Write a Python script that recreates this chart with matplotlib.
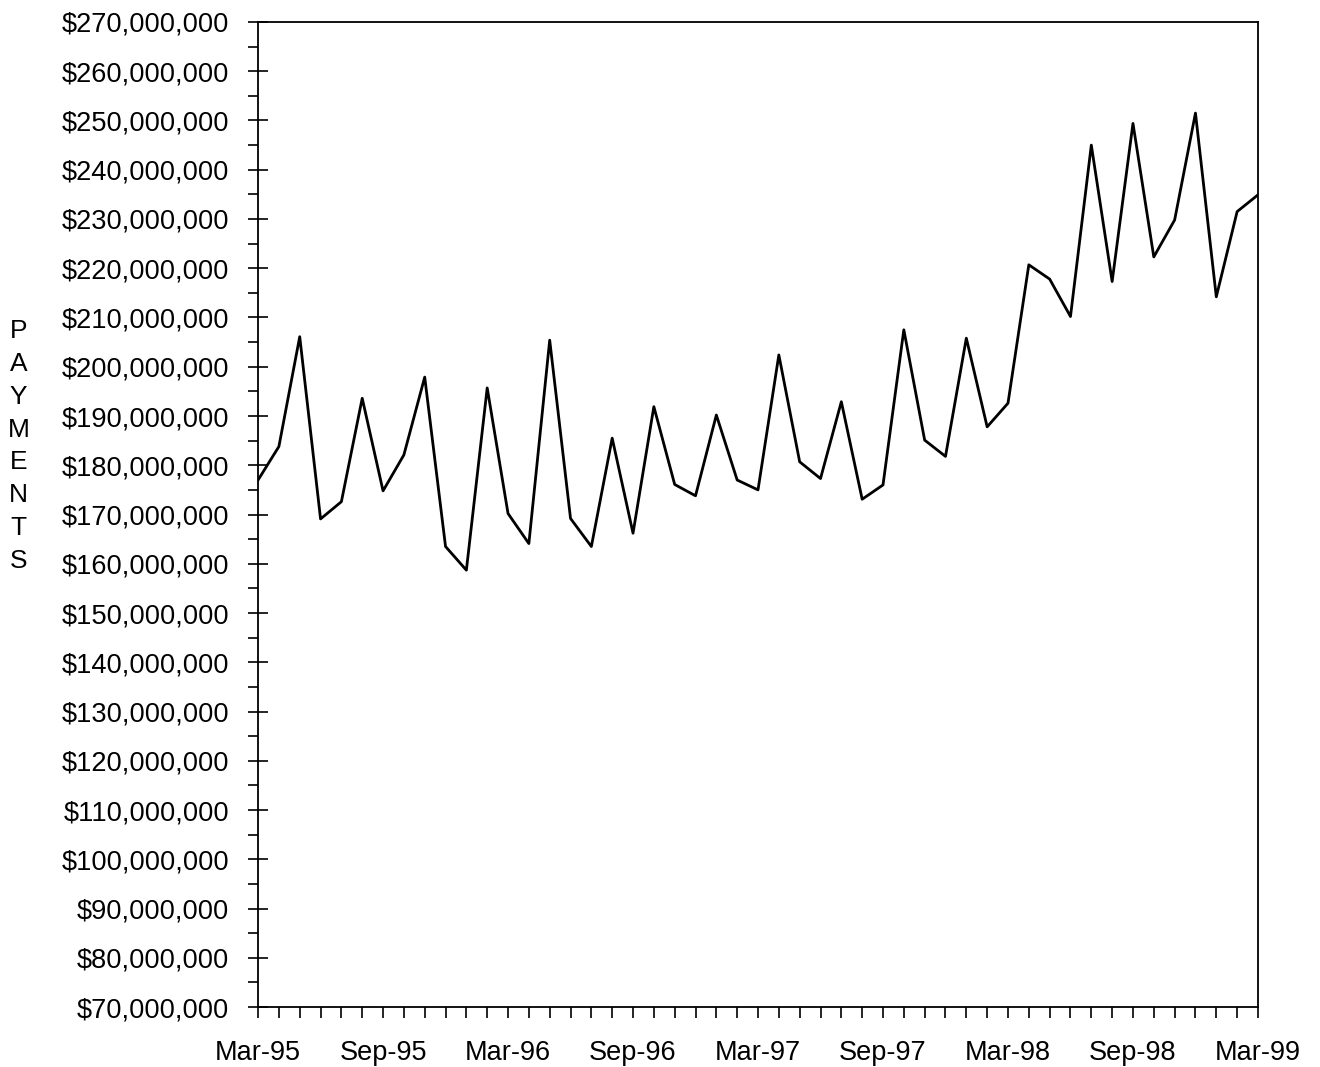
import matplotlib
matplotlib.use("Agg")
import matplotlib.pyplot as plt
from matplotlib.ticker import FuncFormatter, MultipleLocator

# monthly payments, Mar-95 .. Mar-99 (millions of dollars)
payments = [
    177.0, 183.8, 206.1, 169.1, 172.6, 193.6, 174.8, 182.1, 197.9, 163.5,
    158.7, 195.7, 170.2, 164.1, 205.4, 169.2, 163.5, 185.5, 166.2, 191.9,
    176.1, 173.8, 190.2, 177.0, 175.0, 202.4, 180.7, 177.3, 192.9, 173.1,
    176.0, 207.5, 185.1, 181.8, 205.8, 187.8, 192.6, 220.7, 217.8, 210.2,
    245.0, 217.3, 249.4, 222.3, 229.8, 251.5, 214.2, 231.5, 234.9,
]
tick_labels = ["Mar-95", "Sep-95", "Mar-96", "Sep-96", "Mar-97",
               "Sep-97", "Mar-98", "Sep-98", "Mar-99"]
label_step = 6

plt.rcParams["font.family"] = ["Liberation Sans", "DejaVu Sans"]

fig = plt.figure(figsize=(13.2, 10.67), dpi=100)
ax = fig.add_axes([0.1955, 0.0562, 0.7575, 0.9232])

months = list(range(len(payments)))
ax.plot(months, [p * 1e6 for p in payments], color="black", lw=2.0)

ax.set_xlim(0, len(payments) - 1)
ax.set_ylim(70e6, 270e6)

ax.set_xticks(months, minor=True)
ax.set_xticks(months[::label_step])
ax.set_xticklabels(tick_labels, fontsize=19.5)
ax.tick_params(axis="x", which="both", direction="out", length=8, width=1.2, pad=16)

ax.yaxis.set_major_locator(MultipleLocator(10e6))
ax.yaxis.set_minor_locator(MultipleLocator(5e6))
ax.yaxis.set_major_formatter(FuncFormatter(lambda v, _: "${:,.0f}".format(v)))
ax.tick_params(axis="y", which="major", direction="inout", length=14, width=1.2,
               labelsize=19.6, pad=13.7)
ax.tick_params(axis="y", which="minor", direction="out", length=7, width=1.2)

for s in ax.spines.values():
    s.set_linewidth(1.3)

fig.text(0.014, 0.582, "\n".join("PAYMENTS"), fontsize=19, ha="center",
         va="center", linespacing=1.47)

fig.savefig("out.png", dpi=100)
